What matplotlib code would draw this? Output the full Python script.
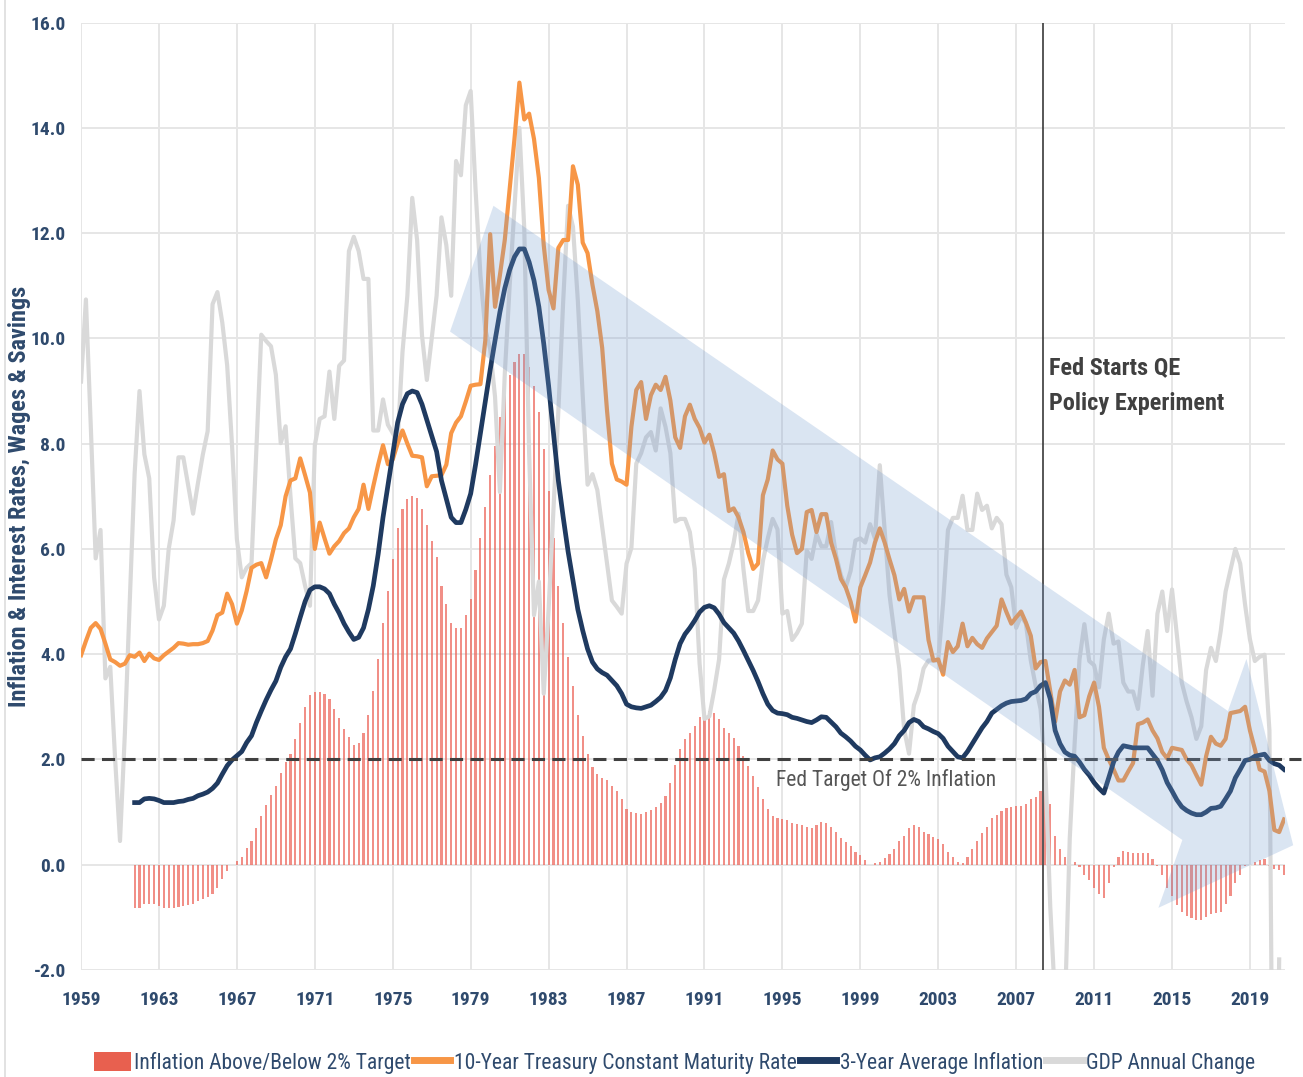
import numpy as np
import matplotlib
matplotlib.use("Agg")
import matplotlib.pyplot as plt
from matplotlib import font_manager
from matplotlib.patches import Patch, Polygon
from matplotlib.lines import Line2D

# quarterly series, values
ten_year_start = 1959.0
ten_year = [
    3.98, 4.25, 4.50, 4.59,  4.48, 4.20, 3.90, 3.85,  3.78, 3.82, 3.98, 3.95,  4.03, 3.87, 4.01, 3.92,
    3.89, 3.98, 4.05, 4.12,  4.21, 4.20, 4.18, 4.19,  4.19, 4.21, 4.25, 4.45,  4.74, 4.79, 5.15, 4.95,
    4.58, 4.83, 5.20, 5.64,  5.70, 5.73, 5.46, 5.80,  6.18, 6.45, 7.00, 7.30,  7.34, 7.72, 7.40, 7.07,
    6.00, 6.50, 6.20, 5.91,  6.05, 6.15, 6.30, 6.39,  6.60, 6.76, 7.22, 6.76,  7.19, 7.60, 7.97, 7.61,
    7.70, 8.00, 8.25, 8.00,  7.77, 7.76, 7.74, 7.19,  7.38, 7.39, 7.40, 7.60,  8.20, 8.40, 8.52, 8.80,
    9.10, 9.12, 9.13, 9.96,  11.98, 10.60, 11.20, 11.87,  12.83, 13.80, 14.86, 14.16,  14.27, 13.79, 13.05, 11.77,
    10.92, 10.57, 11.72, 11.87,  11.87, 13.27, 12.92, 11.82,  11.62, 11.02, 10.52, 9.82,  8.62, 7.62, 7.32, 7.28,
    7.22, 8.32, 9.02, 9.17,  8.47, 8.92, 9.12, 9.02,  9.27, 8.82, 8.12, 7.92,  8.52, 8.74, 8.47, 8.30,
    8.02, 8.17, 7.82, 7.37,  7.42, 6.72, 6.77, 6.60,  6.32, 5.92, 5.62, 5.72,  7.02, 7.32, 7.87, 7.70,
    7.62, 6.82, 6.27, 5.92,  6.00, 6.70, 6.74, 6.32,  6.66, 6.66, 6.12, 5.81,  5.43, 5.27, 5.00, 4.62,
    5.27, 5.50, 5.74, 6.12,  6.39, 6.12, 5.80, 5.50,  5.04, 5.24, 4.81, 5.08,  5.08, 5.08, 4.27, 3.88,
    3.90, 3.61, 4.23, 4.04,  4.15, 4.58, 4.15, 4.31,  4.19, 4.12, 4.30, 4.42,  4.54, 5.04, 4.80, 4.58,
    4.70, 4.81, 4.60, 4.35,  3.73, 3.85, 3.87, 3.30,  2.72, 3.29, 3.50, 3.42,  3.70, 2.80, 2.84, 3.20,
    3.46, 3.00, 2.22, 2.00,  1.81, 1.60, 1.60, 1.77,  1.93, 2.67, 2.70, 2.76,  2.55, 2.40, 2.14, 2.02,
    2.22, 2.20, 2.18, 2.00,  1.89, 1.70, 1.52, 2.06,  2.43, 2.30, 2.26, 2.39,  2.88, 2.90, 2.92, 3.00,
    2.55, 2.20, 1.81, 1.77,  1.40, 0.66, 0.62, 0.86,
]

gdp_start = 1959.0
gdp_change = [
    9.18, 10.74, 8.33, 5.82,  6.36, 3.54, 3.76, 2.00,  0.45, 2.50, 5.00, 7.43,  9.00, 7.80, 7.34, 5.46,
    4.66, 4.92, 6.00, 6.54,  7.74, 7.74, 7.20, 6.67,  7.25, 7.79, 8.24, 10.65,  10.88, 10.30, 9.49, 7.97,
    6.18, 5.46, 5.64, 5.73,  7.88, 10.07, 9.95, 9.85,  9.31, 8.01, 8.33, 7.00,  5.82, 5.73, 5.30, 4.92,
    7.97, 8.47, 8.52, 9.37,  8.47, 9.48, 9.58, 11.66,  11.93, 11.66, 11.13, 11.13,  8.25, 8.25, 8.84, 8.36,
    8.20, 8.04, 9.74, 10.81,  12.67, 11.87, 10.06, 9.21,  10.00, 10.81, 12.30, 11.77,  10.81, 13.37, 13.10, 14.43,
    14.70, 12.83, 11.20, 10.17,  9.80, 8.89, 7.08, 9.32,  11.00, 12.51, 14.00, 12.09,  7.83, 4.74, 5.38, 3.25,
    4.85, 6.76, 8.62, 10.72,  12.52, 12.12, 10.72, 8.92,  7.22, 7.42, 7.12, 6.42,  5.72, 5.02, 4.90, 4.77,
    5.72, 6.02, 7.62, 7.82,  8.12, 8.22, 7.87, 8.67,  8.32, 7.82, 6.52, 6.57,  6.57, 6.32, 5.62, 3.82,
    2.77, 2.82, 3.32, 3.90,  5.42, 5.72, 6.12, 6.67,  5.62, 4.82, 4.82, 5.02,  5.77, 6.20, 6.57, 6.37,
    4.77, 4.82, 4.27, 4.40,  4.58, 5.97, 5.81, 6.28,  6.05, 6.05, 6.51, 5.89,  5.50, 5.27, 5.58, 6.16,
    6.20, 6.12, 6.47, 6.20,  7.59, 6.36, 5.12, 4.40,  3.73, 2.57, 2.11, 3.03,  3.30, 3.73, 3.88, 3.88,
    3.88, 4.97, 6.36, 6.59,  6.59, 7.01, 6.36, 6.36,  7.05, 6.74, 6.82, 6.39,  6.59, 6.47, 5.51, 5.27,
    4.50, 4.73, 4.58, 3.88,  3.40, 2.96, 1.80, -0.80,  -2.60, -3.30, -2.80, 0.50,  2.30, 3.90, 4.57, 3.87,
    3.79, 3.37, 4.28, 4.77,  4.20, 4.24, 3.46, 3.29,  3.29, 2.96, 3.79, 4.44,  3.21, 4.77, 5.19, 4.44,
    5.23, 4.36, 3.46, 3.10,  2.80, 2.39, 2.63, 3.70,  4.12, 3.87, 4.44, 5.19,  5.60, 6.00, 5.72, 4.94,
    4.28, 3.87, 3.95, 3.99,  2.55, -8.80, -1.80,
]

infl_start = 1961.75
infl_3yr = [
    1.18,
    1.18, 1.25, 1.26, 1.25,  1.22, 1.18, 1.18, 1.18,  1.20, 1.21, 1.24, 1.26,  1.31, 1.34, 1.38, 1.45,
    1.55, 1.72, 1.88, 1.99,  2.07, 2.15, 2.32, 2.45,  2.70, 2.92, 3.13, 3.32,  3.49, 3.75, 3.95, 4.10,
    4.39, 4.70, 5.00, 5.22,  5.28, 5.28, 5.24, 5.15,  4.95, 4.78, 4.58, 4.42,  4.28, 4.32, 4.50, 4.85,
    5.30, 5.90, 6.60, 7.20,  7.80, 8.40, 8.75, 8.95,  9.00, 8.97, 8.75, 8.45,  8.15, 7.85, 7.30, 6.95,
    6.60, 6.50, 6.50, 6.75,  7.05, 7.60, 8.20, 8.80,  9.40, 9.96, 10.50, 10.95,  11.30, 11.55, 11.70, 11.70,
    11.45, 11.10, 10.60, 9.90,  9.10, 8.20, 7.30, 6.60,  5.95, 5.40, 4.85, 4.45,  4.10, 3.85, 3.72, 3.65,
    3.60, 3.50, 3.40, 3.25,  3.05, 3.00, 2.98, 2.97,  3.00, 3.03, 3.10, 3.18,  3.31, 3.55, 3.90, 4.20,
    4.38, 4.50, 4.64, 4.80,  4.89, 4.92, 4.88, 4.76,  4.60, 4.50, 4.40, 4.25,  4.07, 3.88, 3.69, 3.48,
    3.25, 3.05, 2.93, 2.88,  2.87, 2.85, 2.80, 2.78,  2.75, 2.72, 2.70, 2.75,  2.81, 2.80, 2.71, 2.62,
    2.50, 2.43, 2.35, 2.25,  2.18, 2.08, 1.99, 2.03,  2.05, 2.12, 2.20, 2.30,  2.45, 2.55, 2.70, 2.76,
    2.72, 2.62, 2.58, 2.53,  2.49, 2.40, 2.25, 2.15,  2.05, 2.03, 2.15, 2.30,  2.45, 2.60, 2.72, 2.88,
    2.95, 3.02, 3.07, 3.10,  3.11, 3.12, 3.15, 3.25,  3.29, 3.40, 3.46, 3.15,  2.55, 2.30, 2.14, 2.08,
    2.06, 1.95, 1.81, 1.70,  1.56, 1.45, 1.36, 1.65,  1.95, 2.14, 2.26, 2.24,  2.22, 2.22, 2.22, 2.22,
    2.10, 1.98, 1.80, 1.56,  1.40, 1.23, 1.10, 1.03,  0.98, 0.95, 0.95, 1.00,  1.07, 1.08, 1.11, 1.25,
    1.40, 1.65, 1.81, 1.98,  2.00, 2.06, 2.08, 2.10,  1.98, 1.92, 1.89, 1.81,
]

target = 2.0
qe_start = 2008.4
year_ticks = list(range(1959, 2020, 4))
y_ticks = [-2, 0, 2, 4, 6, 8, 10, 12, 14, 16]

ORANGE = "#F79646"
NAVY = "#1F3A60"
GRAY = "#D9D9D9"
BAR_RED = "#EC6459"
TEXT_BLUE = "#2F4A6D"

# the original uses a narrow Calibri-like face; take the first condensed family found
names = {f.name for f in font_manager.fontManager.ttflist}
font_pick = "Liberation Sans"
for cand in ["Roboto Condensed", "Open Sans Condensed", "Asap Condensed",
             "Encode Sans Condensed", "Archivo Narrow", "Barlow Semi Condensed"]:
    if cand in names:
        font_pick = cand
        break
plt.rcParams["font.family"] = [font_pick, "DejaVu Sans"]


def qtimes(start, values):
    return start + 0.25 * np.arange(len(values))


t_ten = qtimes(ten_year_start, ten_year)
t_gdp = qtimes(gdp_start, gdp_change)
t_inf = qtimes(infl_start, infl_3yr)
gap = np.array(infl_3yr) - target

fig = plt.figure(figsize=(13.03, 10.77), dpi=100)
ax = fig.add_axes([0.0622, 0.0994, 0.9240, 0.8796])

ax.bar(t_inf, gap, width=0.11, color=BAR_RED, alpha=0.72, linewidth=0, zorder=2)
ax.plot(t_gdp, gdp_change, color=GRAY, lw=3.0, zorder=3)
ax.plot(t_ten, ten_year, color=ORANGE, lw=3.0, zorder=4)
ax.plot(t_inf, infl_3yr, color=NAVY, lw=3.4, zorder=5)

# 2% target
ax.plot([1959, 2021.6], [target, target], color="#404040", lw=2.2,
        dashes=(4.3, 2.4), zorder=6, clip_on=False)
ax.text(2000.3, 1.6, "Fed Target Of 2% Inflation", fontsize=15.5,
        color="#555555", ha="center", va="center", zorder=7)

# QE marker
ax.axvline(qe_start, color="#3A3A3A", lw=1.2, zorder=6)
ax.text(qe_start + 0.3, 9.1, "Fed Starts QE\nPolicy Experiment", fontsize=17.5,
        fontweight="bold", color="#404040", ha="left", va="center",
        linespacing=1.7, zorder=7)

# big translucent trend arrow
arrow = Polygon([(1980.17, 12.52), (2017.87, 2.92), (2018.82, 3.91), (2021.22, 0.37),
                 (2014.30, -0.82), (2015.53, 0.47), (1977.94, 10.13)],
                closed=True, facecolor="#739BCF", alpha=0.26, edgecolor="none",
                zorder=8, clip_on=False)
ax.add_patch(arrow)

ax.set_xlim(1959, 2020.8)
ax.set_ylim(-2, 16)
ax.set_xticks(year_ticks)
ax.set_xticklabels([str(y) for y in year_ticks])
ax.set_yticks(y_ticks)
ax.set_yticklabels([f"{v:.1f}" for v in y_ticks])
ax.tick_params(length=0, labelsize=14, labelcolor=TEXT_BLUE)
ax.tick_params(axis="x", pad=15)
ax.tick_params(axis="y", pad=11)
for lab in ax.get_xticklabels() + ax.get_yticklabels():
    lab.set_fontweight("bold")
ax.grid(True, color="#E6E6E6", lw=1.4, zorder=0)
ax.set_axisbelow(True)
for sp in ax.spines.values():
    sp.set_visible(False)

fig.text(20 / 1303, 0.5395, "Inflation & Interest Rates, Wages & Savings", rotation=90,
         fontsize=17.5, fontweight="bold", color=TEXT_BLUE, ha="center", va="center")

handles = [
    Patch(facecolor="#E8604F", edgecolor="none"),
    Line2D([], [], color=ORANGE, lw=5),
    Line2D([], [], color=NAVY, lw=5),
    Line2D([], [], color=GRAY, lw=5),
]
labels = ["Inflation Above/Below 2% Target", "10-Year Treasury Constant Maturity Rate",
          "3-Year Average Inflation", "GDP Annual Change"]
leg = fig.legend(handles, labels, loc="center", bbox_to_anchor=(0.5177, 0.013),
                 ncol=4, frameon=False, fontsize=15.5, handlelength=1.7, handleheight=1.0,
                 handletextpad=0.15, columnspacing=0.15, borderpad=0.1)
for txt in leg.get_texts():
    txt.set_color(TEXT_BLUE)

# thin frame line at the left edge of the image
fig.add_artist(Line2D([0.004, 0.004], [0.0, 1.0], color="#DDDDDD", lw=1.2))

fig.savefig("out.png", dpi=100, facecolor="white")
